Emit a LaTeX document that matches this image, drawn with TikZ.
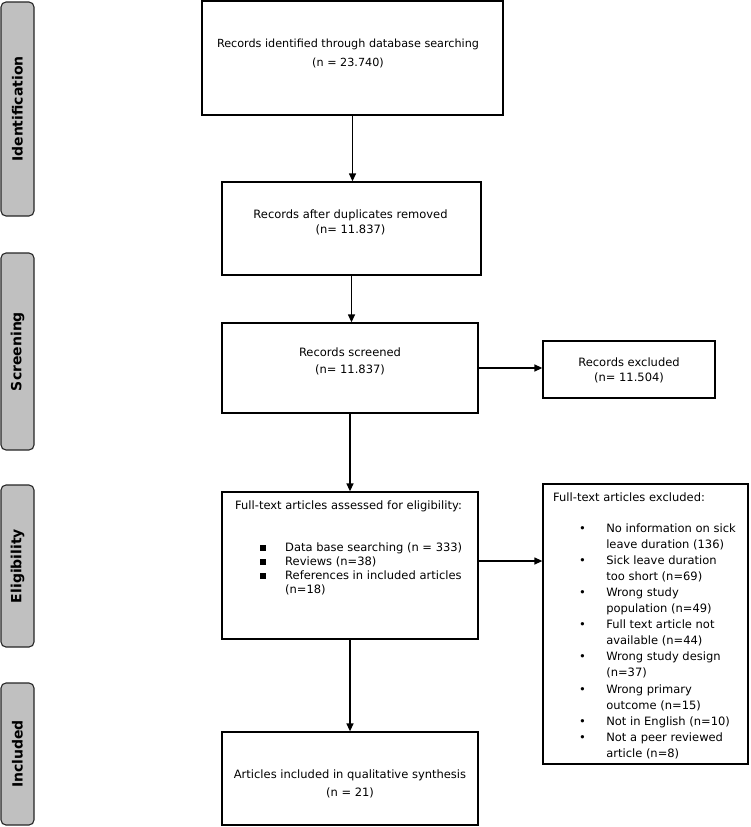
\documentclass[tikz,border=0pt]{standalone}
\usepackage{fontspec}
\setmainfont{DejaVu Sans}
\usetikzlibrary{arrows.meta}
\definecolor{barfill}{RGB}{192,192,192}
\begin{document}
\begin{tikzpicture}[x=1pt,y=-1pt,
  box/.style={draw=black, line width=1.3pt, fill=white, inner sep=0pt},
  bar/.style={draw=black!85, line width=1.1pt, fill=barfill, rounded corners=5pt, inner sep=0pt},
  barlabel/.style={rotate=90, inner sep=0pt, font=\fontsize{14}{16}\selectfont\bfseries},
  txt/.style={align=center, inner sep=0pt},
  arr/.style={line width=1.3pt, -{Triangle[width=7pt,length=8pt]}}]
\useasboundingbox (0,0) rectangle (750,827);
\fill[white] (0,0) rectangle (750,827);

% side bars
\node[bar, minimum width=33pt, minimum height=214pt] (idbar) at (17.5,109) {};
\node[barlabel] (idlab) at (idbar) {Identification};
\node[bar, minimum width=33pt, minimum height=197pt] (scrbar) at (17.5,351.5) {};
\node[barlabel] (scrlab) at (scrbar) {Screening};
\node[bar, minimum width=33pt, minimum height=162pt] (elbar) at (17.5,566) {};
\node[barlabel] (ellab) at (elbar) {Eligibility};
\node[bar, minimum width=33pt, minimum height=142pt] (inbar) at (17.5,754) {};
\node[barlabel] (inlab) at (inbar) {Included};

% boxes
\node[box, minimum width=301pt, minimum height=114pt] (b1) at (352.5,58) {};
\node[box, minimum width=259pt, minimum height=93pt] (b2) at (351.5,228.5) {};
\node[box, minimum width=256pt, minimum height=90pt] (b3) at (350,368) {};
\node[box, minimum width=172pt, minimum height=57pt] (ex1) at (629,369.5) {};
\node[box, minimum width=256pt, minimum height=147pt] (b4) at (350,565.5) {};
\node[box, minimum width=205pt, minimum height=280pt] (ex2) at (645.5,624) {};
\node[box, minimum width=256pt, minimum height=93pt] (b5) at (350,778.5) {};

% texts
\node[txt, font=\fontsize{11.2}{19}\selectfont] (t1) at (348,53) {Records identified through database searching\\(n = 23.740)};
\node[txt, font=\fontsize{11.5}{15}\selectfont] (t2) at (350.5,222.5) {Records after duplicates removed\\(n= 11.837)};
\node[txt, font=\fontsize{11.5}{17}\selectfont] (t3) at (350,361.5) {Records screened\\(n= 11.837)};
\node[txt, font=\fontsize{11.5}{15}\selectfont] (tex1) at (629,370.5) {Records excluded\\(n= 11.504)};
\node[txt, font=\fontsize{11.5}{18}\selectfont] (t5) at (350,784) {Articles included in qualitative synthesis\\(n = 21)};

\node[inner sep=0pt, anchor=north west, font=\fontsize{11.5}{14}\selectfont] (t4) at (235,499) {%
\begin{tabular}{@{\hspace{25pt}}c@{\hspace{19pt}}l@{}}
\multicolumn{2}{@{}l@{}}{Full-text articles assessed for eligibility:}\\[28pt]
\raisebox{0.5pt}{\rule{6pt}{6pt}} & Data base searching (n = 333)\\
\raisebox{0.5pt}{\rule{6pt}{6pt}} & Reviews (n=38)\\
\raisebox{0.5pt}{\rule{6pt}{6pt}} & References in included articles\\
 & (n=18)
\end{tabular}};

\node[inner sep=0pt, anchor=north west, font=\fontsize{11.5}{16.1}\selectfont] (tex2) at (553,490.5) {%
\begin{tabular}{@{\hspace{26pt}}c@{\hspace{20.3pt}}l@{}}
\multicolumn{2}{@{}l@{}}{Full-text articles excluded:}\\[14pt]
\textbullet & No information on sick\\
 & leave duration (136)\\
\textbullet & Sick leave duration\\
 & too short (n=69)\\
\textbullet & Wrong study\\
 & population (n=49)\\
\textbullet & Full text article not\\
 & available (n=44)\\
\textbullet & Wrong study design\\
 & (n=37)\\
\textbullet & Wrong primary\\
 & outcome (n=15)\\
\textbullet & Not in English (n=10)\\
\textbullet & Not a peer reviewed\\
 & article (n=8)
\end{tabular}};

% connectors
\draw[arr] (b1.south) -- (b1.south |- b2.north);
\draw[arr] (b2.south) -- (b2.south |- b3.north);
\draw[arr] (b3.east) -- (b3.east -| ex1.west);
\draw[arr] (b3.south) -- (b4.north);
\draw[arr] ([yshift=4.5pt]b4.east) -- ([yshift=4.5pt]b4.east -| ex2.west);
\draw[arr] (b4.south) -- (b5.north);
\end{tikzpicture}
\end{document}
